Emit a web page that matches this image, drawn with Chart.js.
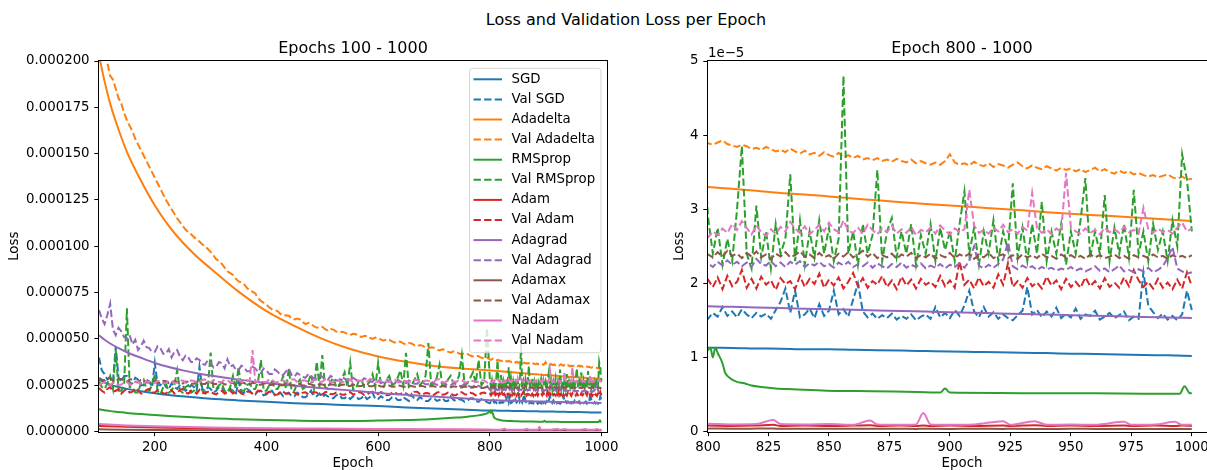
<!DOCTYPE html>
<html>
<head>
<meta charset="utf-8">
<title>Loss and Validation Loss per Epoch</title>
<script src="https://cdn.jsdelivr.net/npm/chart.js@4.4.1/dist/chart.umd.min.js"></script>
<style>
  html, body { margin: 0; padding: 0; background: #fff; overflow: hidden; }
  #fig { position: relative; width: 1207px; height: 470px; overflow: hidden; }
  #suptitle {
    position: absolute; left: 0; top: 11px; width: 1252px; text-align: center;
    font: 16px/18px 'DejaVu Sans', sans-serif; color: #000;
  }
  canvas { position: absolute; top: 0; }
  #left { left: 0; }
  #right { left: 640px; }
</style>
</head>
<body>
<div id="fig">
  <div id="suptitle">Loss and Validation Loss per Epoch</div>
  <canvas id="left" width="640" height="470"></canvas>
  <canvas id="right" width="600" height="470"></canvas>
</div>
<script>
// all losses are stored in units of 1e-6

const range = (a, b, step) => {
  const out = [];
  for (let v = a; v <= b; v += step) out.push(v);
  return out;
};

// validation losses: every 5 epochs up to 795, then every 2 epochs
const valEpochs = range(100, 795, 5).concat(range(800, 1000, 2));
// smooth training curves
const trainEpochs = [100, 110, 120, 135, 150, 175, 200, 225, 250, 275, 300, 350, 400, 450, 500, 550, 600, 650, 700, 750]
  .concat(range(800, 1000, 10));
const rmspropEpochs = [100, 110, 120, 135, 150, 175, 200, 225, 250, 275, 300,
  350, 400, 450, 500, 550, 600, 650, 700, 720, 740, 760, 780, 790, 796,
  800, 801, 802, 803, 804, 806, 807, 808, 810, 812, 815, 818, 822, 828, 835,
  849, 862, 877, 890, 896, 898, 900, 920, 940, 960, 980, 995, 997, 999, 1000];
const smallEpochs = [100, 150, 200, 300, 400, 500, 600, 700, 800, 810, 820, 827, 830,
  840, 850, 860, 867, 870, 880, 886, 889, 892, 900, 910, 922, 925, 935, 940,
  950, 960, 972, 975, 985, 993, 996, 1000];

const sgd = [28, 26.5, 25.3, 24, 23, 21.7, 20.6, 19.7, 19, 18.3, 17.7, 16.8, 16, 15.3, 14.8, 14.2, 13.7, 13.0, 12.4, 11.9,
  11.3, 11.28, 11.2, 11.18, 11.1, 11.1, 11.02, 10.98, 10.92, 10.85, 10.78, 10.74, 10.7, 10.62, 10.58, 10.5, 10.46, 10.4, 10.32, 10.28, 10.2];
const adadelta = [203, 189, 177, 163, 151, 135.5, 122, 111, 102, 94.5, 88, 75.5, 65, 57, 50, 44.5, 40.5, 37.6, 35.4, 34.0,
  33.0, 32.75, 32.5, 32.2, 32.0, 31.7, 31.45, 31.2, 30.95, 30.7, 30.5, 30.3, 30.05, 29.85, 29.6, 29.4, 29.2, 29.0, 28.8, 28.6, 28.4];
const adagrad = [52, 49.5, 47.5, 45, 42.8, 39.8, 37, 34.8, 33, 31.5, 30.2, 28, 26.2, 24.7, 23.4, 22.2, 20.8, 19.8, 18.9, 17.9,
  16.9, 16.82, 16.74, 16.66, 16.58, 16.5, 16.42, 16.34, 16.26, 16.18, 16.1, 16.02, 15.94, 15.86, 15.78, 15.7, 15.62, 15.54, 15.46, 15.4, 15.33];
const rmsprop = [12.0, 11.5, 11.0, 10.5, 10.0, 9.4, 8.9, 8.4, 7.9, 7.5, 7.1,
  6.6, 6.2, 5.9, 5.7, 5.7, 5.9, 6.2, 6.8, 7.1, 7.5, 8.0, 8.7, 9.3, 9.9,
  11.0, 11.3, 10.0, 11.3, 10.6, 9.2, 8.0, 7.5, 7.0, 6.7, 6.5, 6.2, 6.0, 5.8, 5.7,
  5.5, 5.45, 5.4, 5.3, 5.25, 5.8, 5.25, 5.2, 5.15, 5.15, 5.1, 5.1, 6.1, 5.2, 5.15];
const adam = [3.0, 2.5, 2.1, 1.6, 1.3, 1.1, 1.0, 0.9, 0.8, 0.75, 0.8, 0.9, 0.75,
  0.8, 0.75, 0.8, 0.85, 0.75, 0.8, 0.75, 0.8, 0.75, 0.8, 0.75, 0.8, 0.75, 0.85, 0.75,
  0.8, 0.75, 0.8, 0.75, 0.8, 0.75, 0.8, 0.75];
const adamax = [1.2, 0.95, 0.8, 0.65, 0.55, 0.5, 0.46, 0.43, 0.4, 0.38, 0.39, 0.4, 0.37,
  0.38, 0.36, 0.38, 0.37, 0.36, 0.37, 0.35, 0.37, 0.36, 0.35, 0.36, 0.35, 0.36, 0.35, 0.34,
  0.36, 0.35, 0.34, 0.35, 0.34, 0.35, 0.34, 0.34];
const nadam = [4.0, 3.3, 2.8, 2.2, 1.8, 1.6, 1.4, 1.2, 1.05, 0.95, 1.0, 1.55, 1.0,
  0.95, 1.0, 0.9, 1.5, 0.95, 0.9, 0.95, 2.5, 0.95, 0.9, 0.95, 1.4, 0.9, 1.4, 0.9,
  0.95, 0.9, 1.3, 0.9, 0.95, 1.3, 0.9, 0.9];

const valSgd = [
  40, 33, 31, 28, 29, 27, 46, 29, 27, 30,
  30, 26, 26, 29, 28, 25, 25, 28, 27, 24,
  37, 25, 25, 27, 24, 23, 26, 24, 23, 25,
  25, 22, 23, 25, 24, 22, 35, 23, 22, 24,
  23, 21, 22, 24, 24, 21, 21, 23, 22, 20,
  27, 21, 21, 23, 22, 20, 20, 22, 21, 19.5,
  20, 22, 22, 19.5, 20, 21, 19, 20.5, 21, 19,
  19, 21, 20, 18.5, 18.5, 20, 22, 19, 19, 20.5,
  18.5, 20, 19, 18, 18, 19.5, 20, 18, 18, 19,
  17.5, 19, 19, 17.5, 18, 19.5, 17.5, 18.5, 21, 17.5,
  17.5, 19, 18, 17, 17, 18.5, 18.5, 17, 17, 18.5,
  17.5, 16.5, 20, 17.5, 17, 18.5, 17.5, 16.5, 16.5, 18,
  18, 16.5, 17, 18, 16.5, 16.5, 19, 17, 16.5, 17.5,
  17, 16, 16.5, 18, 18, 16.5, 16, 17.5, 17, 15.8,
  // 800 - 1000
  15.2, 16.0, 15.5, 16.8, 15.6, 16.2, 15.4, 16.5, 15.8, 15.3,
  16.0, 15.5, 15.9, 15.2, 16.4, 17.5, 19.3, 16.0, 19.0, 15.4,
  15.8, 16.6, 15.3, 17.2, 15.6, 16.3, 19.0, 15.8, 16.5, 15.5,
  17.8, 20.0, 16.2, 15.4, 15.9, 15.2, 15.7, 15.3, 15.9, 15.1,
  15.6, 15.2, 15.8, 15.0, 15.5, 15.8, 15.2, 16.8, 15.4, 16.0,
  15.3, 16.4, 15.6, 17.0, 19.0, 16.2, 15.4, 16.8, 15.5, 16.1,
  15.2, 15.8, 15.3, 15.0, 15.7, 16.3, 19.5, 15.8, 16.4, 15.4,
  16.2, 15.5, 16.7, 15.3, 15.9, 15.4, 16.6, 15.2, 15.8, 15.6,
  16.3, 15.1, 15.5, 16.0, 15.3, 15.7, 16.2, 15.0, 15.5, 15.2,
  21.5, 17.0, 16.1, 15.3, 15.9, 15.1, 15.6, 15.0, 15.8, 19.0,
  16.4];

const valAdadelta = [
  215, 210, 205, 199, 192, 190, 185, 180, 177, 172,
  168, 165, 162, 158, 155, 152, 149, 146, 143, 140,
  137, 134, 131, 128, 125, 122.5, 120, 117.5, 115, 113,
  111, 109, 107.5, 106.5, 105, 103.5, 102.5, 101, 100, 98.5,
  97, 95, 93, 92, 90.5, 88.5, 86.5, 85.5, 84.5, 82.5,
  81, 80.5, 79.5, 77.5, 76, 75.5, 74.5, 72, 70.5, 69.5,
  68.5, 67, 66, 65.5, 65, 63.5, 62.5, 62.8, 62.5, 61,
  60.5, 61, 60.5, 59, 58, 58.6, 58, 56.8, 56, 56.6,
  56.5, 55.2, 54.5, 55.3, 55, 53.9, 53.5, 53.8, 53.5, 52.6,
  52, 52.8, 52.5, 51.4, 51, 51.6, 51.5, 50.6, 50, 50.7,
  50.5, 49.6, 49, 49.8, 49.5, 48.6, 48, 48.7, 48.5, 47.6,
  47, 47.8, 47.5, 46.5, 46, 46.7, 46.2, 45.3, 44.8, 45.5,
  45.2, 44.3, 43.8, 44.4, 44, 43.1, 42.6, 43.3, 43, 42.1,
  41.7, 42.3, 41.9, 41.0, 40.5, 41.1, 40.6, 39.8, 39.5, 39.9,
  // 800 - 1000
  38.9, 38.7, 39.0, 39.3, 38.8, 38.6, 38.4, 38.7, 38.5, 38.1,
  38.3, 38.0, 38.4, 38.1, 37.8, 38.0, 37.7, 38.2, 37.8, 37.5,
  37.9, 37.4, 37.6, 37.2, 37.7, 37.3, 37.1, 37.6, 37.0, 37.3,
  36.9, 37.2, 36.7, 36.9, 36.6, 36.9, 36.5, 36.7, 36.4, 36.8,
  36.5, 36.3, 36.7, 36.2, 36.5, 36.2, 36.0, 36.3, 36.0, 36.5,
  37.4, 36.3, 36.0, 36.2, 35.9, 36.4, 36.0, 35.8, 36.2, 35.7,
  36.1, 35.9, 35.6, 36.0, 36.3, 35.8, 35.5, 35.9, 35.6, 35.4,
  35.8, 35.5, 35.2, 35.6, 35.3, 35.5, 35.1, 35.4, 35.0, 35.3,
  35.6, 35.1, 35.4, 35.0, 34.8, 35.2, 34.9, 35.1, 34.7, 34.9,
  34.6, 34.4, 34.6, 34.3, 34.5, 34.7, 34.3, 34.1, 34.4, 34.0,
  34.1];

const valRmsprop = [
  27, 24, 23, 26, 30, 23, 44, 22, 22, 25,
  66.5, 24, 24, 21, 21, 26, 28, 23, 22, 25,
  31, 22, 20, 24, 26, 21, 22, 25, 33, 22,
  21, 24, 25, 21, 22, 26, 29, 22, 21, 24,
  42.6, 23, 23, 25, 26, 22, 21, 24, 30, 23,
  35, 22, 22, 25, 26, 23, 23, 27, 38.6, 22,
  22, 25, 27, 23, 23, 26, 30, 23, 34, 22,
  22, 26, 28, 23, 24, 27, 31, 23, 37.7, 24,
  41.3, 24, 23, 27, 29, 24, 25, 28, 32, 24,
  37, 23, 23, 27, 28, 24, 25, 27, 31, 24,
  37, 25, 24, 28, 30, 25, 26, 29, 33, 25,
  42.4, 24, 25, 28, 31, 25, 27, 30, 47.8, 25,
  26, 29, 36, 25, 25, 28, 30, 26, 27, 30,
  41.3, 25, 26, 29, 32, 26, 38.6, 25, 27, 56,
  // 800 - 1000
  29, 24, 27.5, 22.5, 26, 23, 30, 38.5, 24, 22,
  30.5, 23.5, 27, 22, 28, 24, 26, 34.7, 23, 28.5,
  22.5, 27, 23.5, 28.5, 24, 27.5, 23, 26, 48, 24,
  27, 22.5, 28, 24, 26.5, 35.3, 23, 27, 28.8, 23.5,
  27, 24, 28, 22.5, 26.5, 24, 28, 23, 27.5, 24.5,
  27, 23, 28, 32.4, 24, 27.5, 22.5, 27, 24, 28.5,
  23, 27, 24.5, 33.5, 23.5, 27.5, 23, 28, 24, 31,
  23, 27, 24, 28, 22.5, 27, 24, 28.5, 34.2, 23.5,
  27, 24, 31.9, 23, 27.5, 24, 28, 23.5, 32.6, 24,
  27, 23, 28, 24.5, 27, 23, 28.5, 25, 37.4, 34,
  27];

const valAdam = [
  23.5, 22, 21, 23, 24, 21.5, 22, 23, 20.5, 22,
  23, 21, 21.5, 23, 22.5, 20.5, 20.5, 22.5, 23, 21,
  21, 22.5, 22, 20.5, 20.5, 22, 22.5, 20.5, 21, 22.5,
  23, 21, 20.5, 22, 21.5, 20.5, 22.5, 21, 20.5, 21.5,
  21.5, 20.5, 20, 21.5, 22, 20.5, 21, 22, 20.5, 21.5,
  22, 20.5, 20, 21.5, 21.5, 20.5, 20.5, 22, 22, 20.5,
  20.5, 21.5, 21, 19.8, 20, 21.5, 21.5, 20.3, 20.5, 21.4,
  21, 20, 19.8, 21, 21.2, 20, 20.3, 21.3, 21, 19.9,
  20, 21.2, 21.5, 20.1, 20.2, 21, 20.8, 19.8, 19.8, 21,
  21.3, 20, 20.3, 21.2, 20.9, 19.7, 19.9, 21.1, 21.4, 20.1,
  20.2, 21.3, 20.8, 19.6, 19.7, 21, 21.2, 20.1, 20.3, 20.9,
  20.6, 19.5, 19.8, 21.4, 21.5, 20.2, 20, 20.8, 20.7, 19.6,
  19.8, 21, 21.3, 19.9, 20.1, 21, 20.6, 19.5, 19.7, 21.1,
  21.2, 20.1, 20, 20.9, 20.5, 19.5, 19.6, 20.8, 21, 20.2,
  // 800 - 1000
  20.5, 19.5, 20.8, 19.2, 21.0, 19.6, 20.2, 21.8, 19.4, 20.6,
  19.3, 20.9, 19.8, 20.4, 19.1, 20.7, 19.9, 20.3, 19.2, 21.0,
  19.5, 20.6, 19.9, 21.3, 19.4, 20.5, 19.7, 20.8, 19.3, 20.2,
  21.4, 19.6, 20.7, 19.4, 20.3, 19.8, 21.0, 19.5, 20.4, 19.2,
  20.9, 19.7, 20.5, 19.3, 20.6, 19.8, 20.2, 19.5, 21.0, 19.6,
  20.4, 19.4, 23.0, 19.8, 20.5, 19.3, 20.8, 19.6, 20.2, 19.4,
  21.2, 19.8, 22.7, 19.5, 20.3, 19.4, 20.7, 19.6, 20.1, 19.3,
  20.9, 19.7, 20.4, 19.2, 20.6, 19.5, 20.2, 19.4, 20.8, 19.6,
  20.3, 19.3, 20.7, 19.5, 20.1, 19.4, 20.8, 19.6, 21.8, 20.4,
  19.5, 20.2, 19.3, 20.6, 19.4, 20.1, 19.2, 20.5, 19.3, 21.5,
  19.6];

const valAdagrad = [
  65.6, 61, 58, 63, 69, 55, 52, 56, 54, 51,
  50, 52, 47, 49.5, 44, 46, 49, 45.5, 45, 43,
  43, 46, 45, 42, 42, 44.5, 40, 43, 44, 40.5,
  38.5, 41, 40, 37.5, 37.5, 39.5, 38.6, 36.5, 36, 38.5,
  37, 34.5, 35, 37.5, 36.8, 34, 39, 35, 35.9, 33.5,
  33, 35.5, 34.5, 32.5, 32.5, 35, 34, 32, 31.5, 34,
  33, 31, 31, 33.5, 32.3, 30.5, 30.5, 32.5, 34, 30.5,
  29.5, 31.5, 30.5, 29.5, 29, 31, 30, 28.5, 28.5, 30.5,
  29.5, 28, 28, 30, 29, 27.5, 27.5, 29.5, 28.5, 27.5,
  27.5, 29, 28, 27, 27, 28.8, 28, 26.8, 26.8, 28.5,
  27.5, 26.5, 26.5, 28, 27.3, 26.3, 26.3, 27.8, 27, 26,
  26, 27.5, 26.8, 25.8, 25.8, 27.2, 26.4, 25.5, 25.5, 26.9,
  26, 25.2, 25.2, 26.5, 25.8, 24.8, 24.8, 26.2, 25.4, 24.5,
  24.5, 25.8, 25, 24.2, 24.2, 25.4, 24.6, 23.8, 23.5, 24.6,
  // 800 - 1000
  22.7, 22.2, 22.9, 22.4, 23.1, 22.5, 22.9, 22.3, 22.8, 22.2,
  23.3, 22.6, 22.4, 23.0, 22.3, 22.8, 22.2, 22.9, 22.5, 23.0,
  22.2, 22.7, 22.4, 22.9, 22.3, 22.6, 22.1, 22.8, 22.4, 22.9,
  22.2, 22.6, 22.3, 22.8, 22.1, 22.7, 22.3, 22.0, 22.6, 22.2,
  22.8, 22.1, 22.5, 22.2, 22.7, 22.0, 22.4, 22.1, 22.6, 22.0,
  22.5, 22.2, 22.7, 22.1, 23.0, 25.0, 22.4, 22.0, 22.5, 22.1,
  22.6, 23.2, 25.5, 22.3, 21.9, 22.4, 22.0, 22.3, 21.8, 22.2,
  21.9, 22.1, 21.7, 22.0, 21.8, 22.2, 21.7, 22.0, 21.6, 21.9,
  22.3, 21.7, 22.0, 21.5, 21.9, 22.4, 21.6, 21.8, 21.5, 21.9,
  21.6, 22.1, 21.5, 21.8, 22.3, 23.4, 24.9, 22.0, 21.6, 21.3,
  21.5];

const valAdamax = [
  29, 28, 27.5, 29, 28.8, 27.6, 27, 28.5, 28.3, 27,
  26.8, 28.2, 28, 26.7, 26.5, 27.8, 27.6, 26.5, 26.4, 27.6,
  27.3, 26.3, 26.2, 27.4, 27.1, 26.1, 26, 27.2, 26.9, 25.9,
  25.9, 27, 26.8, 25.8, 25.8, 26.9, 26.6, 25.7, 25.7, 26.8,
  26.5, 25.6, 25.6, 26.6, 26.4, 25.4, 25.5, 26.5, 26.3, 25.4,
  25.4, 26.4, 26.2, 25.3, 25.3, 26.3, 26.0, 25.2, 25.2, 26.1,
  25.9, 25.1, 25.1, 26.0, 25.8, 25.0, 25.0, 25.9, 25.7, 24.9,
  24.9, 25.8, 25.6, 24.8, 24.9, 25.7, 25.5, 24.7, 24.8, 25.6,
  25.4, 24.7, 24.7, 25.5, 25.3, 24.6, 24.6, 25.4, 25.2, 24.5,
  24.6, 25.3, 25.1, 24.4, 24.5, 25.2, 25.0, 24.4, 24.4, 25.1,
  24.9, 24.3, 24.4, 25.0, 24.8, 24.2, 24.3, 24.9, 24.7, 24.1,
  24.2, 24.8, 24.6, 24.1, 24.1, 24.7, 24.5, 24.0, 24.1, 24.6,
  24.4, 23.9, 24.0, 24.5, 24.3, 23.8, 23.9, 24.4, 24.2, 23.7,
  23.8, 24.3, 24.1, 23.6, 23.7, 24.2, 24.0, 23.5, 23.6, 24.1,
  // 800 - 1000
  23.9, 23.5, 24.2, 23.6, 24.4, 23.7, 24.0, 23.4, 24.1, 23.6,
  24.3, 23.5, 23.9, 23.3, 24.0, 23.6, 24.2, 23.5, 23.8, 24.3,
  23.6, 23.9, 23.4, 24.1, 23.5, 23.8, 23.3, 24.0, 23.6, 24.2,
  23.5, 23.9, 24.4, 23.6, 24.1, 23.4, 23.8, 23.5, 24.0, 23.3,
  23.9, 23.6, 24.1, 23.4, 23.8, 23.5, 24.0, 23.3, 23.8, 23.5,
  24.1, 23.4, 23.9, 23.6, 24.0, 23.3, 23.8, 23.5, 24.1, 23.4,
  23.7, 23.9, 23.4, 23.8, 23.3, 23.9, 23.5, 23.8, 23.4, 24.0,
  23.5, 23.7, 23.3, 23.9, 23.5, 23.8, 23.4, 23.7, 23.3, 23.9,
  23.5, 23.8, 23.4, 23.6, 23.9, 23.4, 23.7, 23.3, 23.8, 23.5,
  23.7, 23.4, 23.9, 23.5, 23.7, 23.3, 23.8, 23.5, 23.7, 23.4,
  23.8];

const valNadam = [
  25, 26, 26.5, 25, 24.8, 26.4, 26.2, 25.1, 25.4, 26.6,
  26.8, 25.3, 25.5, 26.9, 27, 25.6, 25.8, 27.1, 26.9, 25.9,
  26, 27.3, 27.2, 26, 26.1, 27.5, 27.4, 26.2, 26.3, 27.6,
  27.5, 26.3, 26.4, 27.6, 27.3, 26.5, 26.6, 27.9, 28, 26.6,
  26.5, 27.8, 27.6, 26.7, 26.8, 27.9, 27.5, 26.7, 26.7, 28,
  28.1, 26.8, 26.9, 27.8, 27.4, 44, 26.8, 27.3, 27, 26.7,
  26.8, 28, 27.9, 26.6, 26.7, 27.7, 27.6, 26.8, 26.9, 28.1,
  28.2, 26.7, 26.8, 27.6, 27.5, 26.5, 26.6, 27.9, 27.8, 26.8,
  26.9, 28.2, 28.3, 26.6, 26.7, 27.7, 27.6, 26.7, 26.8, 28,
  27.9, 26.5, 26.6, 27.5, 27.4, 26.8, 26.9, 28.2, 28.1, 26.6,
  26.7, 27.6, 27.5, 26.7, 26.8, 28.1, 28.0, 26.5, 26.6, 27.4,
  27.3, 26.8, 26.9, 27.9, 27.8, 26.6, 26.7, 27.5, 27.4, 26.9,
  26.8, 28.1, 28.2, 26.5, 26.6, 27.4, 27.3, 26.8, 26.9, 27.8,
  27.7, 26.6, 26.7, 27.3, 27.2, 26.7, 26.8, 27.7, 27.6, 26.4,
  // 800 - 1000
  26.2, 27.0, 26.5, 27.4, 26.8, 28.0, 27.2, 28.4, 27.5, 26.6,
  27.8, 26.9, 26.4, 27.3, 26.7, 27.6, 27.0, 28.3, 27.4, 26.8,
  27.7, 26.6, 27.2, 27.9, 27.0, 28.2, 27.3, 26.9, 28.5, 27.1,
  26.8, 27.5, 26.7, 27.9, 27.2, 26.6, 27.4, 26.9, 27.8, 26.7,
  27.3, 26.8, 27.6, 26.5, 27.2, 26.9, 27.5, 26.7, 27.8, 27.1,
  26.6, 27.4, 26.9, 27.3, 32.6, 27.8, 26.8, 27.2, 26.7, 27.5,
  27.0, 27.9, 26.9, 27.3, 26.7, 27.6, 27.1, 32.2, 27.5, 26.8,
  27.3, 26.6, 27.4, 26.9, 34.9, 27.6, 27.0, 26.7, 27.4, 26.8,
  27.2, 26.6, 27.5, 26.9, 27.3, 26.8, 27.6, 26.9, 27.2, 26.7,
  30.2, 27.3, 26.8, 27.4, 26.9, 27.2, 26.7, 27.5, 28.2, 27.0,
  27.4];

const SERIES = [
  { label: 'SGD', color: '#1f77b4', dashed: false, x: trainEpochs, y: sgd },
  { label: 'Val SGD', color: '#1f77b4', dashed: true, x: valEpochs, y: valSgd },
  { label: 'Adadelta', color: '#ff7f0e', dashed: false, x: trainEpochs, y: adadelta },
  { label: 'Val Adadelta', color: '#ff7f0e', dashed: true, x: valEpochs, y: valAdadelta },
  { label: 'RMSprop', color: '#2ca02c', dashed: false, x: rmspropEpochs, y: rmsprop },
  { label: 'Val RMSprop', color: '#2ca02c', dashed: true, x: valEpochs, y: valRmsprop },
  { label: 'Adam', color: '#d62728', dashed: false, x: smallEpochs, y: adam },
  { label: 'Val Adam', color: '#d62728', dashed: true, x: valEpochs, y: valAdam },
  { label: 'Adagrad', color: '#9467bd', dashed: false, x: trainEpochs, y: adagrad },
  { label: 'Val Adagrad', color: '#9467bd', dashed: true, x: valEpochs, y: valAdagrad },
  { label: 'Adamax', color: '#8c564b', dashed: false, x: smallEpochs, y: adamax },
  { label: 'Val Adamax', color: '#8c564b', dashed: true, x: valEpochs, y: valAdamax },
  { label: 'Nadam', color: '#e377c2', dashed: false, x: smallEpochs, y: nadam },
  { label: 'Val Nadam', color: '#e377c2', dashed: true, x: valEpochs, y: valNadam }
];

const FONT = "'DejaVu Sans', sans-serif";
const LINE_W = 2;
const DASH = [7.4, 3.2];
const TICK = 4.7;

Chart.defaults.font.family = FONT;
Chart.defaults.font.size = 13.33;
Chart.defaults.color = '#000';

const makeDatasets = () => SERIES.map((s, i) => ({
  label: s.label,
  data: s.x.map((x, j) => ({ x, y: s.y[j] })),
  borderColor: s.color,
  borderWidth: LINE_W,
  borderDash: s.dashed ? DASH : [],
  pointRadius: 0,
  fill: false,
  // training curves are sparse, let them bend smoothly
  cubicInterpolationMode: s.dashed ? 'default' : 'monotone',
  // later series sit on top, like the original plotting order
  order: SERIES.length - i
}));

// frame, axes title, offset text and the boxed legend
const mplAxes = {
  id: 'mplAxes',
  afterDatasetsDraw(chart, args, opts) {
    const { ctx, chartArea: a } = chart;
    ctx.save();
    ctx.strokeStyle = '#000';
    ctx.lineWidth = 1;
    const l = Math.round(a.left) - 0.5, t = Math.round(a.top) - 0.5;
    ctx.strokeRect(l, t, Math.round(a.right) - Math.round(a.left) + 1, Math.round(a.bottom) - Math.round(a.top) + 1);

    ctx.fillStyle = '#000';
    ctx.font = '16px ' + FONT;
    ctx.textAlign = 'center';
    ctx.textBaseline = 'alphabetic';
    ctx.fillText(opts.title, (a.left + a.right) / 2, a.top - 8);

    if (opts.offsetText) {
      ctx.font = '13.33px ' + FONT;
      ctx.textAlign = 'left';
      ctx.fillText(opts.offsetText, a.left, a.top - 4);
    }

    if (opts.legend) {
      const rowH = 20.1, w = 131.5, h = 284.4;
      const x0 = a.right - 6 - w, y0 = a.top + 7.3;
      ctx.beginPath();
      ctx.roundRect(x0, y0, w, h, 3);
      ctx.fillStyle = 'rgba(255,255,255,0.8)';
      ctx.fill();
      ctx.strokeStyle = 'rgba(204,204,204,0.8)';
      ctx.stroke();
      ctx.font = '13.33px ' + FONT;
      ctx.textAlign = 'left';
      ctx.textBaseline = 'middle';
      SERIES.forEach((s, i) => {
        const y = y0 + 11 + i * rowH;
        ctx.beginPath();
        ctx.setLineDash(s.dashed ? DASH : []);
        ctx.strokeStyle = s.color;
        ctx.lineWidth = LINE_W;
        ctx.moveTo(x0 + 4, y);
        ctx.lineTo(x0 + 32.5, y);
        ctx.stroke();
        ctx.setLineDash([]);
        ctx.fillStyle = '#000';
        ctx.fillText(s.label, x0 + 42, y);
      });
    }
    ctx.restore();
  }
};

const tickGrid = { drawOnChartArea: false, drawTicks: true, tickLength: TICK, tickColor: '#000', tickWidth: 1 };

function buildChart(id, cfg) {
  return new Chart(document.getElementById(id), {
    type: 'line',
    data: { datasets: makeDatasets() },
    options: {
      responsive: false,
      animation: false,
      events: [],
      layout: { padding: { left: 0, right: cfg.padRight, top: 61, bottom: 0 } },
      elements: { line: { tension: 0 } },
      scales: {
        x: {
          type: 'linear',
          min: cfg.xMin,
          max: cfg.xMax,
          afterBuildTicks: s => { s.ticks = cfg.xTicks.map(v => ({ value: v })); },
          afterFit: s => { s.height = 38.5; },
          grid: tickGrid,
          border: { display: false },
          ticks: { padding: TICK, maxRotation: 0, autoSkip: false, font: { lineHeight: 1 }, callback: v => String(v) },
          title: { display: true, text: 'Epoch', font: { lineHeight: 1 }, padding: { top: 0, bottom: 0 } }
        },
        y: {
          min: 0,
          max: cfg.yMax,
          afterFit: s => { s.width = cfg.yWidth; },
          grid: tickGrid,
          border: { display: false },
          ticks: { stepSize: cfg.yStep, padding: TICK, autoSkip: false, callback: cfg.yLabel },
          title: { display: true, text: 'Loss', font: { lineHeight: 1 }, padding: { top: cfg.yTitlePad, bottom: 0 } }
        }
      },
      plugins: {
        legend: { display: false },
        tooltip: { enabled: false },
        mplAxes: { title: cfg.title, legend: cfg.legend, offsetText: cfg.offsetText }
      }
    },
    plugins: [mplAxes]
  });
}

buildChart('left', {
  title: 'Epochs 100 - 1000',
  legend: true,
  xMin: 100, xMax: 1010, xTicks: [200, 400, 600, 800, 1000],
  yMax: 200, yStep: 25, yLabel: v => (v / 1e6).toFixed(6),
  yWidth: 99, yTitlePad: 8.3, padRight: 33
});

buildChart('right', {
  title: 'Epoch 800 - 1000',
  offsetText: '1e\u22125',
  xMin: 800, xMax: 1010, xTicks: [800, 825, 850, 875, 900, 925, 950, 975, 1000],
  yMax: 50, yStep: 10, yLabel: v => String(v / 10),
  yWidth: 68, yTitlePad: 33.3, padRight: 24
});
</script>
</body>
</html>
